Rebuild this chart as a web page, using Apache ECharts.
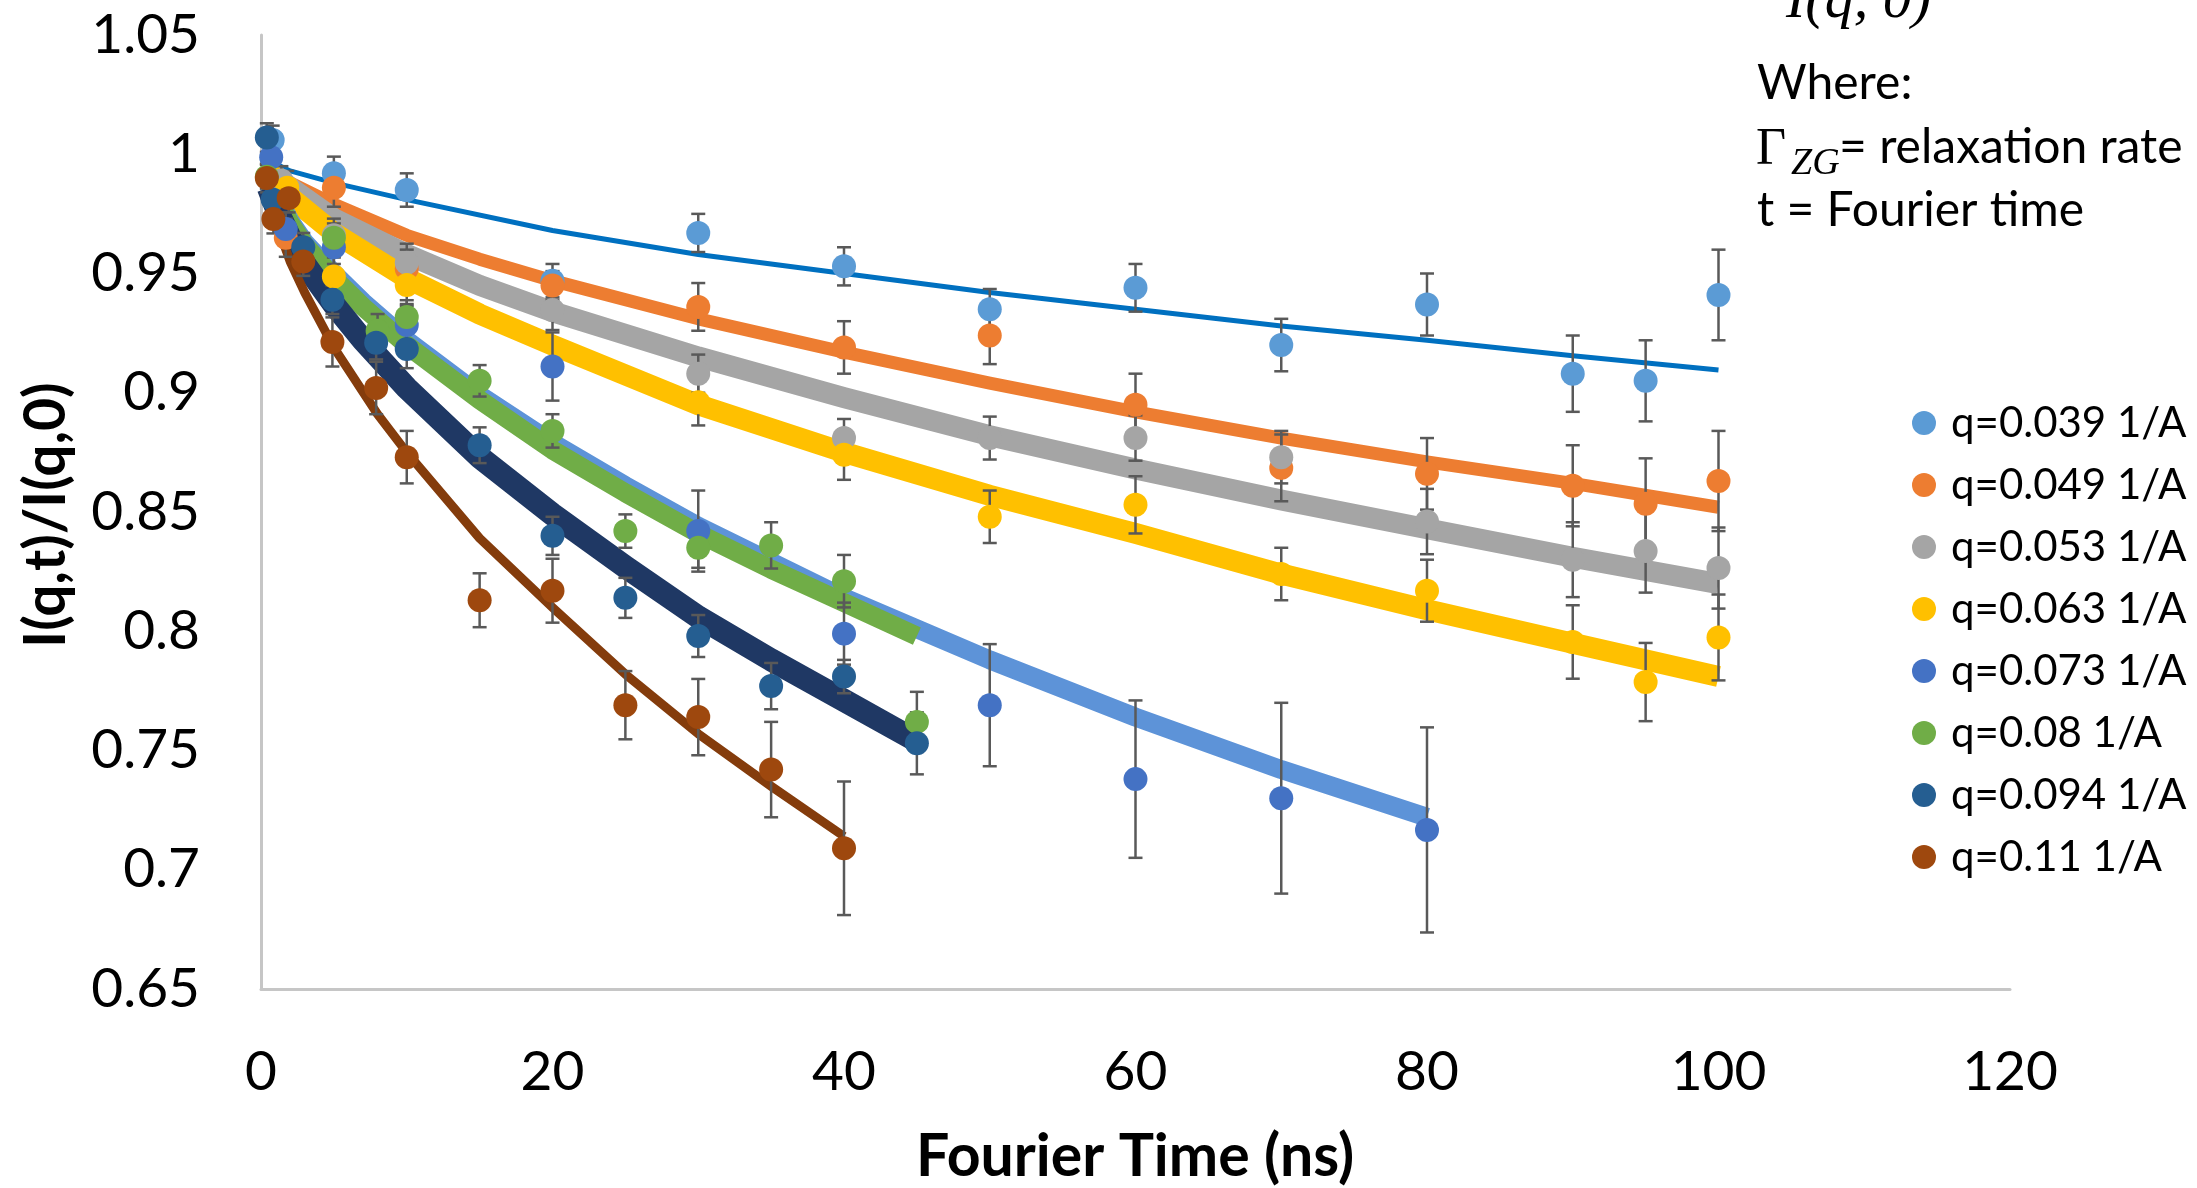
<!DOCTYPE html>
<html>
<head>
<meta charset="utf-8">
<script src="https://cdn.jsdelivr.net/npm/echarts@6/dist/echarts.min.js"></script>
<style>
html,body{margin:0;padding:0;background:#fff;}
#chart{width:2197px;height:1188px;}
</style>
</head>
<body>
<div id="chart"></div>
<script>
// ---------- data ----------
var names = ['q=0.039 1/A','q=0.049 1/A','q=0.053 1/A','q=0.063 1/A','q=0.073 1/A','q=0.08 1/A','q=0.094 1/A','q=0.11 1/A'];
var xTicks = [0, 20, 40, 60, 80, 100, 120];
var yTicks = [0.65, 0.7, 0.75, 0.8, 0.85, 0.9, 0.95, 1, 1.05];

// measured points (t in ns, I(q,t)/I(q,0), error)
var t1 = [0.8, 5, 10, 20, 30, 40, 50, 60, 70, 80, 90, 95, 100];
var y1 = [1.006, 0.992, 0.985, 0.947, 0.967, 0.953, 0.935, 0.944, 0.920, 0.937, 0.908, 0.905, 0.941];
var e1 = [0.006, 0.007, 0.007, 0.007, 0.008, 0.008, 0.0085, 0.010, 0.011, 0.013, 0.016, 0.017, 0.019];

var t2 = [1.7, 5, 10, 20, 30, 40, 50, 60, 70, 80, 90, 95, 100];
var y2 = [0.965, 0.986, 0.952, 0.945, 0.936, 0.919, 0.924, 0.895, 0.8685, 0.866, 0.861, 0.8535, 0.863];
var e2 = [0.008, 0.008, 0.008, 0.006, 0.010, 0.011, 0.012, 0.013, 0.014, 0.015, 0.017, 0.019, 0.021];

var t3 = [1.4, 5, 10, 20, 30, 40, 50, 60, 70, 80, 90, 95, 100];
var y3 = [0.989, 0.966, 0.9545, 0.9347, 0.908, 0.881, 0.881, 0.881, 0.873, 0.846, 0.830, 0.8336, 0.8265];
var e3 = [0.006, 0.007, 0.008, 0.0084, 0.008, 0.008, 0.009, 0.0095, 0.011, 0.0137, 0.0157, 0.0174, 0.017];

var t4 = [1.8, 5, 10, 30, 40, 50, 60, 70, 80, 90, 95, 100];
var y4 = [0.986, 0.9487, 0.9452, 0.896, 0.874, 0.848, 0.853, 0.824, 0.817, 0.7955, 0.7787, 0.7974];
var e4 = [0.007, 0.008, 0.008, 0.0097, 0.0105, 0.011, 0.012, 0.011, 0.013, 0.0154, 0.0164, 0.018];

var t5 = [0.7, 1.7, 5, 10, 20, 30, 40, 50, 60, 70, 80];
var y5 = [0.9987, 0.9687, 0.961, 0.9284, 0.911, 0.842, 0.799, 0.769, 0.738, 0.730, 0.7167];
var e5 = [0.006, 0.007, 0.007, 0.008, 0.0143, 0.017, 0.013, 0.0256, 0.033, 0.040, 0.043];

var t6 = [0.4, 5, 8, 10, 15, 20, 25, 30, 35, 40, 45];
var y6 = [0.9906, 0.965, 0.926, 0.9318, 0.905, 0.884, 0.842, 0.835, 0.836, 0.821, 0.762];
var e6 = [0.005, 0.006, 0.007, 0.007, 0.0066, 0.007, 0.007, 0.0084, 0.0097, 0.011, 0.0126];

var t7 = [0.4, 0.8, 2.9, 4.9, 7.9, 10, 15, 20, 25, 30, 35, 40, 45];
var y7 = [1.007, 0.981, 0.961, 0.939, 0.921, 0.9183, 0.878, 0.840, 0.814, 0.798, 0.777, 0.781, 0.753];
var e7 = [0.006, 0.006, 0.006, 0.006, 0.007, 0.008, 0.0075, 0.008, 0.0084, 0.0088, 0.0097, 0.007, 0.013];

var t8 = [0.4, 0.85, 1.9, 2.9, 4.9, 7.9, 10, 15, 20, 25, 30, 35, 40];
var y8 = [0.990, 0.9728, 0.9816, 0.955, 0.9213, 0.902, 0.873, 0.813, 0.817, 0.769, 0.764, 0.742, 0.709];
var e8 = [0.006, 0.006, 0.006, 0.006, 0.0103, 0.011, 0.011, 0.0113, 0.0134, 0.0143, 0.016, 0.020, 0.028];

// fitted curves
var ft1 = [1, 2, 5, 10, 20, 30, 40, 50, 60, 70, 80, 90, 100];
var fy1 = [0.996, 0.993, 0.988, 0.981, 0.968, 0.958, 0.950, 0.942, 0.935, 0.928, 0.922, 0.9155, 0.9095];
var ft2 = [0.5, 1, 2, 5, 10, 15, 20, 30, 40, 50, 60, 70, 80, 90, 100];
var fy2 = [0.995, 0.993, 0.988, 0.979, 0.966, 0.956, 0.947, 0.931, 0.917, 0.904, 0.892, 0.881, 0.871, 0.862, 0.852];
var ft3 = [0.5, 1, 2, 5, 10, 15, 20, 30, 40, 50, 60, 70, 80, 90, 100];
var fy3 = [0.994, 0.991, 0.986, 0.973, 0.958, 0.945, 0.934, 0.915, 0.898, 0.882, 0.868, 0.855, 0.843, 0.831, 0.820];
var ft4 = [0.5, 1, 2, 5, 10, 15, 20, 30, 40, 50, 60, 70, 80, 90, 100];
var fy4 = [0.993, 0.989, 0.982, 0.967, 0.948, 0.933, 0.920, 0.895, 0.875, 0.857, 0.841, 0.824, 0.809, 0.795, 0.781];
var ft5 = [0.5, 1, 2, 3, 5, 7, 10, 15, 20, 25, 30, 40, 50, 60, 70, 80];
var fy5 = [0.989, 0.983, 0.972, 0.963, 0.950, 0.938, 0.922, 0.899, 0.879, 0.861, 0.844, 0.814, 0.788, 0.764, 0.742, 0.722];
var ft6 = [0.5, 1, 2, 3, 5, 7, 10, 15, 20, 25, 30, 35, 40, 45];
var fy6 = [0.989, 0.982, 0.971, 0.962, 0.948, 0.936, 0.920, 0.897, 0.876, 0.858, 0.841, 0.826, 0.812, 0.798];
var ft7 = [0.5, 1, 2, 3, 5, 7, 10, 15, 20, 25, 30, 35, 40, 45];
var fy7 = [0.986, 0.978, 0.965, 0.954, 0.937, 0.922, 0.902, 0.873, 0.849, 0.827, 0.806, 0.788, 0.771, 0.754];
var ft8 = [0.5, 1, 2, 3, 5, 8, 10, 15, 20, 25, 30, 35, 40];
var fy8 = [0.982, 0.972, 0.955, 0.942, 0.919, 0.891, 0.875, 0.839, 0.810, 0.782, 0.757, 0.735, 0.714];

// ---------- styling ----------
var markerColors = ['#5B9BD5','#ED7D31','#A5A5A5','#FFC000','#4472C4','#70AD47','#255E91','#9E480E'];
var fitColors    = ['#0070C0','#ED7D31','#A5A5A5','#FFC000','#5D93D8','#70AD47','#1F3864','#843C0C'];
var fitWidths    = [5, 13, 21, 21, 19, 19, 23, 9];
var FONT = 'Lato, "Open Sans", sans-serif';

var pts = [[t1,y1,e1],[t2,y2,e2],[t3,y3,e3],[t4,y4,e4],[t5,y5,e5],[t6,y6,e6],[t7,y7,e7],[t8,y8,e8]];
var fits = [[ft1,fy1],[ft2,fy2],[ft3,fy3],[ft4,fy4],[ft5,fy5],[ft6,fy6],[ft7,fy7],[ft8,fy8]];

function zip(a, b, c) {
  return a.map(function (v, i) { return c ? [v, b[i], c[i]] : [v, b[i]]; });
}

var series = [];
fits.forEach(function (f, i) {
  series.push({
    type: 'line', name: 'fit' + i, data: zip(f[0], f[1]),
    smooth: false, showSymbol: false, symbol: 'none',
    lineStyle: { color: fitColors[i], width: fitWidths[i], cap: 'butt', join: 'round' },
    z: 2, silent: true
  });
});
pts.forEach(function (p, i) {
  series.push({
    type: 'custom', name: 'err' + i, data: zip(p[0], p[1], p[2]),
    encode: { x: 0, y: 1 }, z: 3, silent: true,
    renderItem: function (params, api) {
      var x = api.value(0), y = api.value(1), e = api.value(2);
      var a = api.coord([x, y + e]), b = api.coord([x, y - e]);
      var c = 7, st = { stroke: '#595959', lineWidth: 2.5 };
      return { type: 'group', children: [
        { type: 'line', shape: { x1: a[0], y1: a[1], x2: b[0], y2: b[1] }, style: st },
        { type: 'line', shape: { x1: a[0] - c, y1: a[1], x2: a[0] + c, y2: a[1] }, style: st },
        { type: 'line', shape: { x1: b[0] - c, y1: b[1], x2: b[0] + c, y2: b[1] }, style: st }
      ]};
    }
  });
});
pts.forEach(function (p, i) {
  series.push({
    type: 'scatter', name: names[i], data: zip(p[0], p[1]),
    symbol: 'circle', symbolSize: 24,
    itemStyle: { color: markerColors[i], opacity: 1 },
    z: 4
  });
});

var chart = echarts.init(document.getElementById('chart'), null, { renderer: 'canvas' });
chart.setOption({
  animation: false,
  backgroundColor: '#ffffff',
  grid: { left: 261, right: 187, top: 35, bottom: 199, containLabel: false },
  xAxis: {
    type: 'value', min: xTicks[0], max: xTicks[xTicks.length - 1], interval: 20,
    axisLine: { show: true, onZero: false, lineStyle: { color: '#C6C6C6', width: 3 } },
    axisTick: { show: false }, splitLine: { show: false },
    axisLabel: { margin: 56, fontFamily: FONT, fontSize: 55, color: '#000', lineHeight: 55 }
  },
  yAxis: {
    type: 'value', min: yTicks[0], max: yTicks[yTicks.length - 1], interval: 0.05,
    axisLine: { show: true, lineStyle: { color: '#C6C6C6', width: 3 } },
    axisTick: { show: false }, splitLine: { show: false },
    axisLabel: { margin: 61, fontFamily: FONT, fontSize: 55, color: '#000',
      formatter: function (v) { return String(Math.round(v * 100) / 100); } }
  },
  legend: {
    orient: 'vertical', left: 1907, top: 396,
    data: names.map(function (n) { return { name: n, icon: 'circle' }; }),
    itemWidth: 44, itemHeight: 24, itemGap: 18, symbolKeepAspect: true,
    textStyle: { fontFamily: FONT, fontSize: 42, color: '#000', lineHeight: 44 },
    selectedMode: false
  },
  graphic: [
    { type: 'text', x: 47, y: 515, rotation: Math.PI / 2,
      style: { text: 'I(q,t)/I(q,0)', font: 'bold 57px ' + FONT, fill: '#000', align: 'center', verticalAlign: 'middle' } },
    { type: 'text', x: 1135, y: 1157,
      style: { text: 'Fourier Time (ns)', font: 'bold 59px ' + FONT, fill: '#000', align: 'center', verticalAlign: 'middle' } },
    { type: 'text', x: 1786, y: 31,
      style: { text: 'I(q, 0)', font: 'italic 58px "Liberation Serif", serif', fill: '#000', align: 'left', verticalAlign: 'bottom' } },
    { type: 'text', x: 1757, y: 84,
      style: { text: 'Where:', font: '48px ' + FONT, fill: '#000', align: 'left', verticalAlign: 'middle' } },
    { type: 'text', x: 1756, y: 150,
      style: { text: 'Γ', font: '52px "Liberation Serif", serif', fill: '#000', align: 'left', verticalAlign: 'middle' } },
    { type: 'text', x: 1791, y: 164,
      style: { text: 'ZG', font: 'italic 38px "Liberation Serif", serif', fill: '#000', align: 'left', verticalAlign: 'middle' } },
    { type: 'text', x: 1839, y: 148,
      style: { text: '= relaxation rate', font: '48px ' + FONT, fill: '#000', align: 'left', verticalAlign: 'middle' } },
    { type: 'text', x: 1757, y: 211,
      style: { text: 't = Fourier time', font: '48px ' + FONT, fill: '#000', align: 'left', verticalAlign: 'middle' } }
  ],
  series: series
});
</script>
</body>
</html>
